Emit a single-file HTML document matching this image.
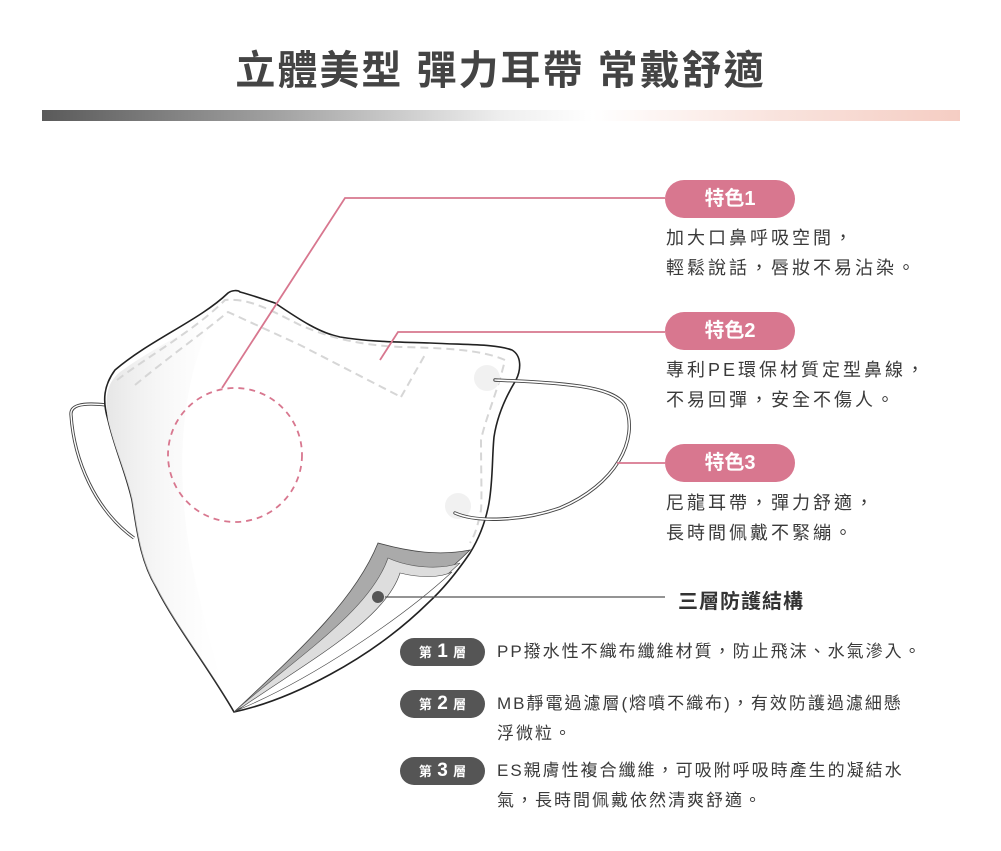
<!DOCTYPE html>
<html><head><meta charset="utf-8"><style>
body{margin:0;width:1001px;height:851px;background:#fff;position:relative;overflow:hidden;font-family:"Liberation Sans","Noto Sans CJK TC",sans-serif;color:#3a3a3a}
.t{position:absolute;white-space:nowrap}
.title{left:0;width:1001px;text-align:center;top:38px;font-size:40px;font-weight:bold;color:#444;letter-spacing:2px}
.bar{position:absolute;left:42px;top:110px;width:918px;height:11px;background:linear-gradient(90deg,#5a5a5a 0%,#a0a0a0 25%,#eee 50%,#fff 60%,#f9e3dd 80%,#f5cdc3 100%)}
.pill{position:absolute;left:665px;width:130px;height:38px;border-radius:19px;background:#d8778f;color:#fff;font-weight:bold;font-size:20px;text-align:center;line-height:38px}
.desc{left:666px;font-size:18px;letter-spacing:3px;line-height:30px}
.lay{position:absolute;left:400px;width:85px;height:28px;border-radius:14px;background:#555;color:#fff;font-weight:bold;font-size:19px;text-align:center;line-height:28px}
.lay small{font-size:13px}
.ld{left:497px;font-size:17px;letter-spacing:2px;line-height:30px}
</style></head><body>
<div class="t title">立體美型 彈力耳帶 常戴舒適</div>
<div class="bar"></div>
<svg width="1001" height="851" style="position:absolute;left:0;top:0">
<defs><linearGradient id="sh" x1="0" x2="1"><stop offset="0" stop-color="#e6e6e6"/><stop offset="1" stop-color="#fff" stop-opacity="0"/></linearGradient></defs>
<path d="M106,405 C80,402 70,406 71,415 C74,460 95,510 134,538" fill="none" stroke="#444" stroke-width="3.2"/>
<path d="M106,405 C80,402 70,406 71,415 C74,460 95,510 134,538" fill="none" stroke="#fff" stroke-width="1.4"/>
<path d="M115,370 C150,340 200,320 228,293 C232,290 238,290 240,292 C255,296 265,300 275,303 C300,320 320,333 340,337 C370,342 400,342 430,343 C470,345 495,344 512,350 C522,356 521,370 516,380 C505,398 497,417 494,437 C492,457 493,480 489,503 C485,525 478,540 470,553 C455,575 440,592 428,603 C370,660 290,700 234,712 C210,670 175,625 156,587 C140,560 137,530 132,500 C125,470 115,450 108,420 C102,400 104,385 115,370 Z" fill="#fff" stroke="#222" stroke-width="1.6"/>
<path d="M120,372 C150,350 190,330 215,315 C180,380 170,480 200,600 C210,650 225,690 234,712 C210,670 175,625 156,587 C140,560 137,530 132,500 C125,470 115,450 108,420 C104,395 108,382 120,372Z" fill="url(#sh)"/>
<g fill="none" stroke="#d6d6d6" stroke-width="2" stroke-dasharray="8,5">
<path d="M117,380 C150,355 195,330 225,300 C250,298 270,310 300,325 C330,338 360,345 400,347 C440,348 480,349 505,360 C498,390 485,420 481,440 C481,470 482,500 481,510 C478,525 475,535 470,543"/>
<path d="M135,385 C165,360 200,335 228,312 L300,345 L401,397"/>
<path d="M401,397 L426,353"/>
</g>
<circle cx="487" cy="378" r="13" fill="#f1f1f1"/>
<circle cx="458" cy="506" r="13" fill="#f1f1f1"/>
<path d="M378,543 C410,552 440,556 470,550 C420,600 330,660 234,712 C300,650 355,600 378,543Z" fill="#aaa" stroke="#444" stroke-width="0.8"/>
<path d="M388,558 C410,568 440,570 460,563 C410,610 320,670 236,710 C300,655 370,610 388,558Z" fill="#ddd" stroke="#555" stroke-width="0.6"/>
<path d="M400,573 C420,578 440,578 452,572 C400,620 310,680 238,710 C310,660 385,620 400,573Z" fill="#fff" stroke="#444" stroke-width="0.6"/>
<path d="M495,380 C560,383 612,385 625,405 C640,440 615,485 560,508 C520,522 475,522 455,513" fill="none" stroke="#444" stroke-width="3.4" stroke-linecap="round"/>
<path d="M495,380 C560,383 612,385 625,405 C640,440 615,485 560,508 C520,522 475,522 455,513" fill="none" stroke="#fff" stroke-width="1.6" stroke-linecap="round"/>
<circle cx="235" cy="455" r="67" fill="none" stroke="#d8778f" stroke-width="1.8" stroke-dasharray="6,5"/>
<g fill="none" stroke="#d8778f" stroke-width="1.8">
<path d="M665,198 L345,198 L222,388"/>
<path d="M665,332 L398,332 L380,360"/>
<path d="M617,463 L665,463"/>
</g>
<path d="M385,597 L665,597" stroke="#555" stroke-width="1.3"/>
<circle cx="378" cy="597" r="6" fill="#555"/>
</svg>
<div class="pill" style="top:180px">特色1</div>
<div class="t desc" style="top:223px">加大口鼻呼吸空間，<br>輕鬆說話，唇妝不易沾染。</div>
<div class="pill" style="top:312px">特色2</div>
<div class="t desc" style="top:355px">專利PE環保材質定型鼻線，<br>不易回彈，安全不傷人。</div>
<div class="pill" style="top:444px">特色3</div>
<div class="t desc" style="top:488px">尼龍耳帶，彈力舒適，<br>長時間佩戴不緊繃。</div>
<div class="t" style="left:678px;top:585px;font-size:20px;font-weight:bold;letter-spacing:1px;color:#333">三層防護結構</div>
<div class="lay" style="top:638px"><small>第</small> 1 <small>層</small></div>
<div class="t ld" style="top:637px">PP撥水性不織布纖維材質，防止飛沫、水氣滲入。</div>
<div class="lay" style="top:690px"><small>第</small> 2 <small>層</small></div>
<div class="t ld" style="top:689px">MB靜電過濾層(熔噴不織布)，有效防護過濾細懸<br>浮微粒。</div>
<div class="lay" style="top:757px"><small>第</small> 3 <small>層</small></div>
<div class="t ld" style="top:756px">ES親膚性複合纖維，可吸附呼吸時產生的凝結水<br>氣，長時間佩戴依然清爽舒適。</div>
</body></html>
